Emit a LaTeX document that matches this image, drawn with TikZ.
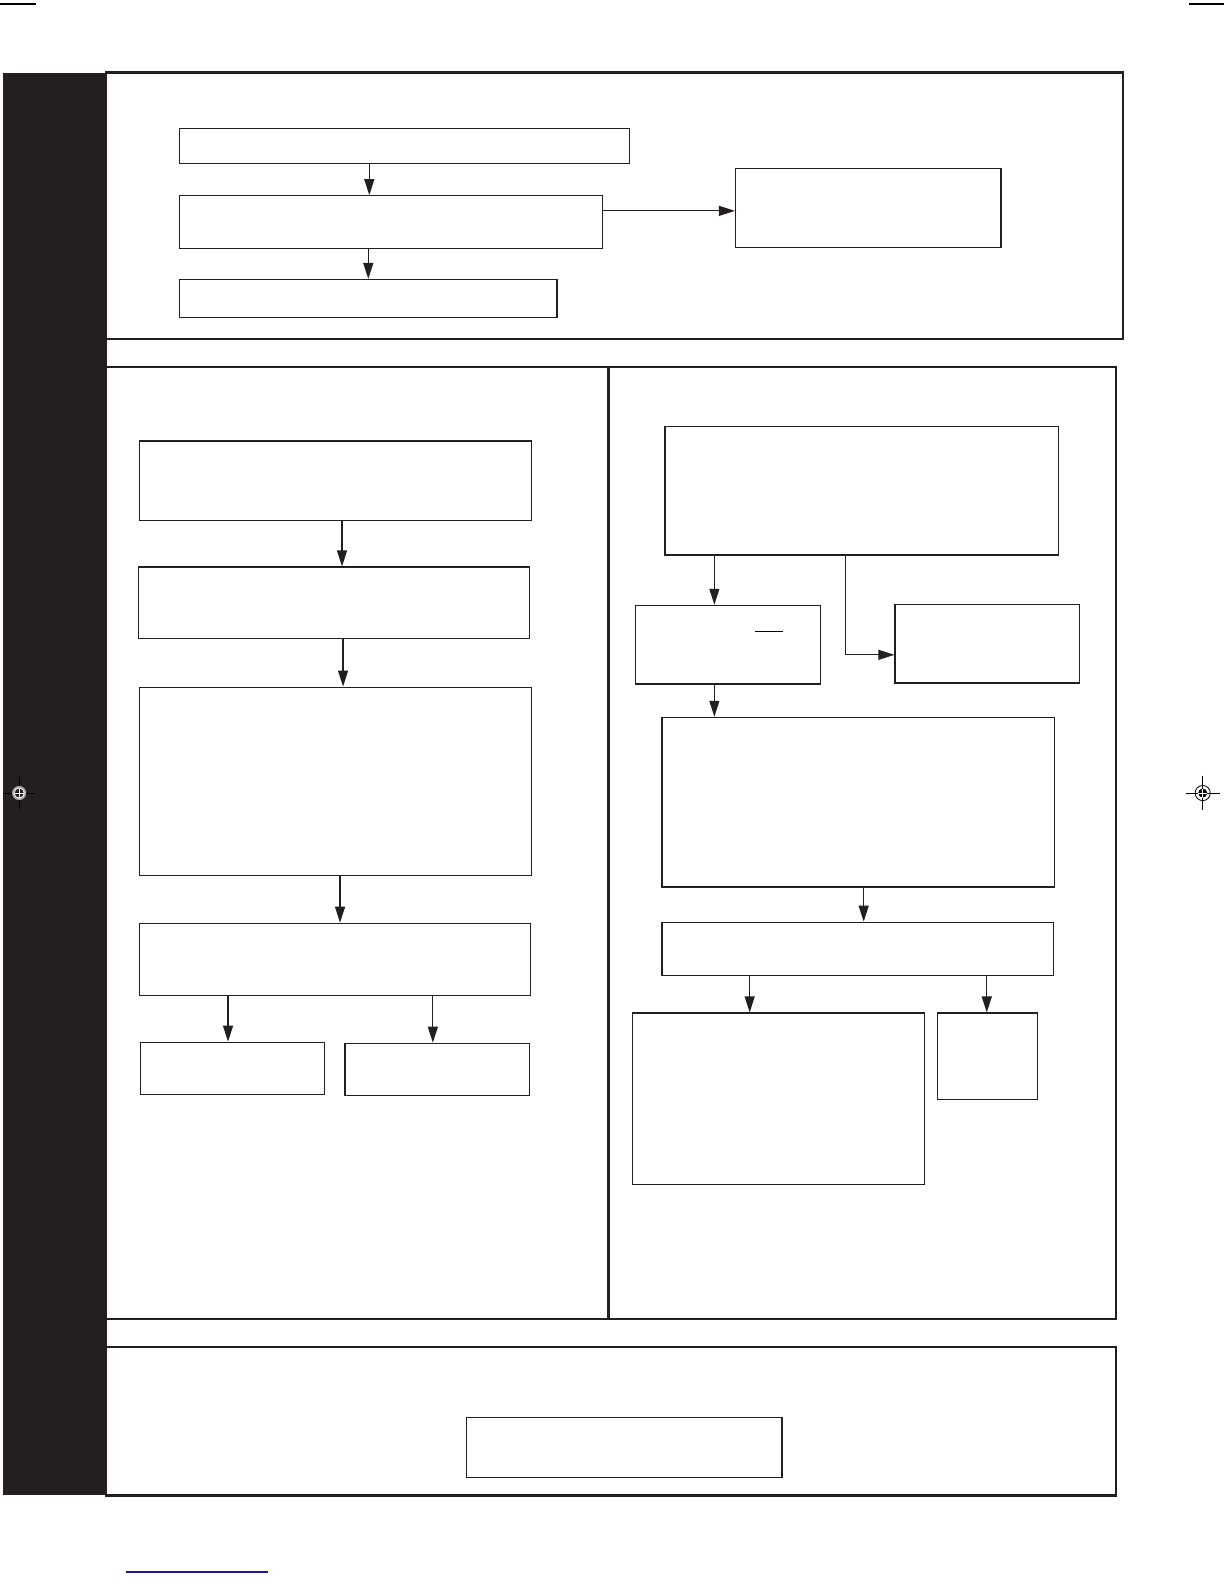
\documentclass[tikz,border=0pt]{standalone}
\usepackage{xcolor}
\usetikzlibrary{arrows.meta}
\usetikzlibrary{fit}
\definecolor{sheet black}{RGB}{35,31,32}
\definecolor{trim blue}{RGB}{25,25,150}

\begin{document}
\begin{tikzpicture}[
					x=0.5045bp, y=-0.5045bp,
					panel frame/.style={draw=sheet black, line width=1.2bp},
					flow box/.style={draw=sheet black, line width=0.6bp, rectangle, inner sep=0pt},
					flow arrow/.style={draw=sheet black, line width=0.6bp, -{Triangle[length=8bp, width=5bp]}},
					trim line/.style={line width=0.6bp},
				]
					\useasboundingbox (0,0) rectangle (1213.1,1569.9);
					
					% side bar and panels
					\fill[sheet black] (3,72) rectangle (106,1482);
					\draw[panel frame] (105,72) rectangle (1113,336);
					\draw[panel frame] (105,364) rectangle (1106,1307);
					\draw[panel frame] (603,364) -- (603,1307);
					\draw[panel frame] (105,1335) rectangle (1106,1482);
					
					% top panel
					\node[flow box, fit={(178,127) (624,162)}] (topA) {};
					\node[flow box, fit={(178,194) (597,246)}] (topB) {};
					\node[flow box, fit={(178,277) (552,315)}] (topC) {};
					\node[flow box, fit={(729,167) (992,245)}] (topD) {};
					\draw[flow arrow] (topA.south -| 366,0) -- (topB.north -| 366,0);
					\draw[flow arrow] (topB.south -| 365,0) -- (topC.north -| 365,0);
					\draw[flow arrow] (topB.east |- 0,209) -- (topD.west |- 0,209);
					
					% left column
					\node[flow box, fit={(138,437) (527,516)}] (leftA) {};
					\node[flow box, fit={(137,562) (525,633)}] (leftB) {};
					\node[flow box, fit={(138,681) (527,868)}] (leftC) {};
					\node[flow box, fit={(138,915) (526,987)}] (leftD) {};
					\node[flow box, fit={(139,1033) (322,1085)}] (leftE) {};
					\node[flow box, fit={(342,1034) (525,1086)}] (leftF) {};
					\draw[flow arrow] (leftA.south -| 339,0) -- (leftB.north -| 339,0);
					\draw[flow arrow] (leftB.south -| 340,0) -- (leftC.north -| 340,0);
					\draw[flow arrow] (leftC.south -| 337,0) -- (leftD.north -| 337,0);
					\draw[flow arrow] (leftD.south -| 226,0) -- (leftE.north -| 226,0);
					\draw[flow arrow] (leftD.south -| 429,0) -- (leftF.north -| 429,0);
					
					% right column
					\node[flow box, fit={(659,423) (1049,550)}] (rightA) {};
					\node[flow box, fit={(630,600) (813,678)}] (rightB) {};
					\node[flow box, fit={(887,599) (1070,677)}] (rightC) {};
					\node[flow box, fit={(656,711) (1045,879)}] (rightD) {};
					\node[flow box, fit={(656,914) (1044,967)}] (rightE) {};
					\node[flow box, fit={(627,1004) (916,1174)}] (rightF) {};
					\node[flow box, fit={(929,1004) (1028,1090)}] (rightG) {};
					\draw[trim line] (748,626) -- (776,626);
					\draw[flow arrow] (rightA.south -| 708,0) -- (rightB.north -| 708,0);
					\draw[flow arrow] (rightA.south -| 838,0) |- (rightC.west |- 0,649);
					\draw[flow arrow] (rightB.south -| 708,0) -- (rightD.north -| 708,0);
					\draw[flow arrow] (rightD.south -| 856,0) -- (rightE.north -| 856,0);
					\draw[flow arrow] (rightE.south -| 743,0) -- (rightF.north -| 743,0);
					\draw[flow arrow] (rightE.south -| 978,0) -- (rightG.north -| 978,0);
					
					% bottom panel
					\node[flow box, fit={(462,1405) (775,1464)}] (bottomA) {};
					
					% trim and registration marks
					\draw[trim line] (0,4) -- (36,4);
					\draw[trim line] (1178,4) -- (1213,4);
					\draw[trim line, draw=trim blue] (125,1558) -- (266,1558);
					\begin{scope}[shift={(19,786)}]
						\draw[line width=0.4bp, black] (-16,0) -- (16,0) (0,-16) -- (0,16);
						\fill[gray!70] (0,0) circle[radius=7];
						\fill[white] (0,0) circle[radius=5.5];
						\fill[sheet black] (0,0) circle[radius=4.5];
						\draw[line width=0.5bp, white] (-4.5,0) -- (4.5,0) (0,-4.5) -- (0,4.5);
					\end{scope}
					\begin{scope}[shift={(1192,786)}]
						\draw[line width=0.4bp] (-17,0) -- (17,0) (0,-17) -- (0,17);
						\draw[line width=0.4bp] (0,0) circle[radius=7.5];
						\fill (0,0) circle[radius=4.5];
						\draw[line width=0.5bp, white] (-4.5,0) -- (4.5,0) (0,-4.5) -- (0,4.5);
					\end{scope}
				\end{tikzpicture}
\end{document}
